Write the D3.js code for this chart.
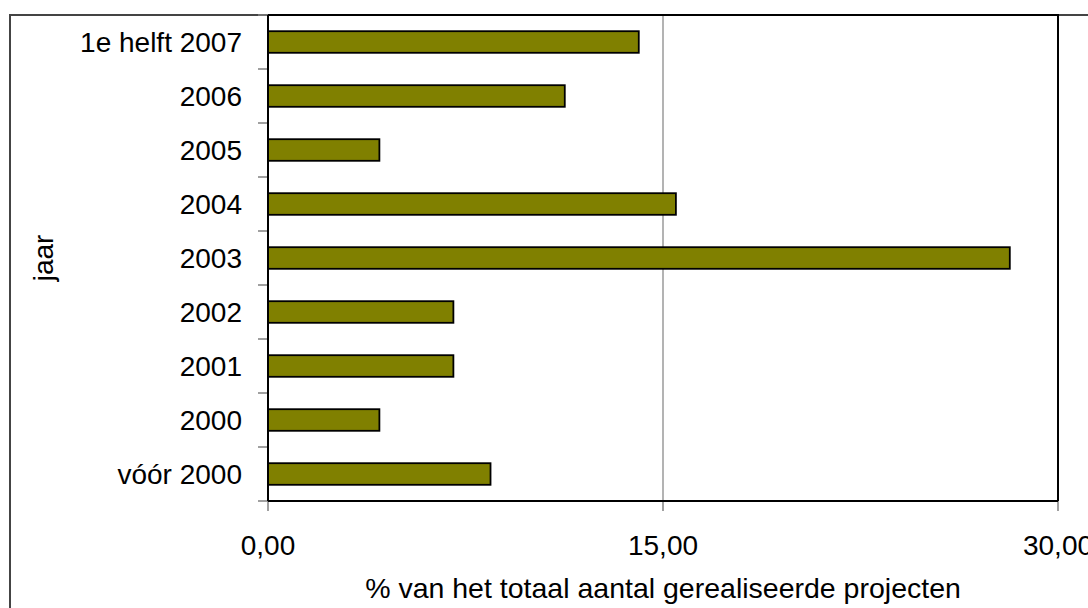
<!DOCTYPE html>
<html>
<head>
<meta charset="utf-8">
<script src="https://cdn.jsdelivr.net/npm/d3@7"></script>
<style>
  html, body { margin: 0; padding: 0; background: #fff; }
  svg { display: block; font-family: "Liberation Sans", Arial, sans-serif; }
</style>
</head>
<body>
<svg id="chart" width="1088" height="608"></svg>
<script>
const categories = ["1e helft 2007", "2006", "2005", "2004", "2003", "2002", "2001", "2000", "vóór 2000"];
const values = [14.08, 11.27, 4.23, 15.49, 28.17, 7.04, 7.04, 4.23, 8.45];
const xTicks = [0, 15, 30];
const xTickLabels = ["0,00", "15,00", "30,00"];
const xTitle = "% van het totaal aantal gerealiseerde projecten";
const yTitle = "jaar";

(function () {
const svg = d3.select("#chart");
const pLeft = 268, pRight = 1058, pTop = 15, pBottom = 501;

// outer chart border
svg.append("path")
  .attr("d", `M10,612 L10,15 L1090,15`)
  .attr("fill", "none").attr("stroke", "#444").attr("stroke-width", 2);

const x = d3.scaleLinear().domain([0, 30]).range([pLeft, pRight]);
const band = d3.scaleBand().domain(categories).range([pTop, pBottom]);

// gridlines
svg.append("g").selectAll("line").data(xTicks.filter(d => d > 0 && d < 30)).join("line")
  .attr("x1", d => x(d)).attr("x2", d => x(d))
  .attr("y1", pTop).attr("y2", pBottom)
  .attr("stroke", "#808080").attr("stroke-width", 1.2);

// plot border top and right
svg.append("path")
  .attr("d", `M${pLeft},${pTop} L${pRight},${pTop} L${pRight},${pBottom}`)
  .attr("fill", "none").attr("stroke", "#000").attr("stroke-width", 2);

// bars
const bh = band.bandwidth() / 2.5;
svg.append("g").selectAll("rect").data(categories).join("rect")
  .attr("x", x(0))
  .attr("y", (d) => band(d) + band.bandwidth() / 2 - bh / 2)
  .attr("width", (d, i) => x(values[i]) - x(0))
  .attr("height", bh)
  .attr("fill", "#808000")
  .attr("stroke", "#000").attr("stroke-width", 1.8);

// y axis ticks at category boundaries
const bounds = categories.map(c => band(c)).concat([pBottom]);
svg.append("g").selectAll("line").data(bounds).join("line")
  .attr("x1", pLeft - 10).attr("x2", pLeft)
  .attr("y1", d => d).attr("y2", d => d)
  .attr("stroke", "#808080").attr("stroke-width", 1.5);

// x axis ticks
svg.append("g").selectAll("line").data(xTicks).join("line")
  .attr("x1", d => x(d)).attr("x2", d => x(d))
  .attr("y1", pBottom).attr("y2", pBottom + 10)
  .attr("stroke", "#808080").attr("stroke-width", 1.5);

// axes lines
svg.append("line").attr("x1", pLeft).attr("x2", pLeft).attr("y1", pTop).attr("y2", pBottom)
  .attr("stroke", "#000").attr("stroke-width", 2);
svg.append("line").attr("x1", pLeft).attr("x2", pRight).attr("y1", pBottom).attr("y2", pBottom)
  .attr("stroke", "#000").attr("stroke-width", 2);

// y labels
svg.append("g").selectAll("text").data(categories).join("text")
  .attr("x", 242)
  .attr("y", d => band(d) + band.bandwidth() / 2)
  .attr("dy", "0.36em")
  .attr("text-anchor", "end")
  .attr("font-size", 28)
  .attr("fill", "#000")
  .text(d => d);

// x tick labels
svg.append("g").selectAll("text").data(xTicks).join("text")
  .attr("x", d => x(d))
  .attr("y", 555)
  .attr("text-anchor", "middle")
  .attr("font-size", 28)
  .attr("fill", "#000")
  .text((d, i) => xTickLabels[i]);

// titles
svg.append("text")
  .attr("x", (pLeft + pRight) / 2)
  .attr("y", 598)
  .attr("text-anchor", "middle")
  .attr("font-size", 28.5)
  .attr("fill", "#000")
  .text(xTitle);

svg.append("text")
  .attr("transform", `translate(53,${(pTop + pBottom) / 2}) rotate(-90)`)
  .attr("text-anchor", "middle")
  .attr("font-size", 28)
  .attr("fill", "#000")
  .text(yTitle);
})();
</script>
</body>
</html>
